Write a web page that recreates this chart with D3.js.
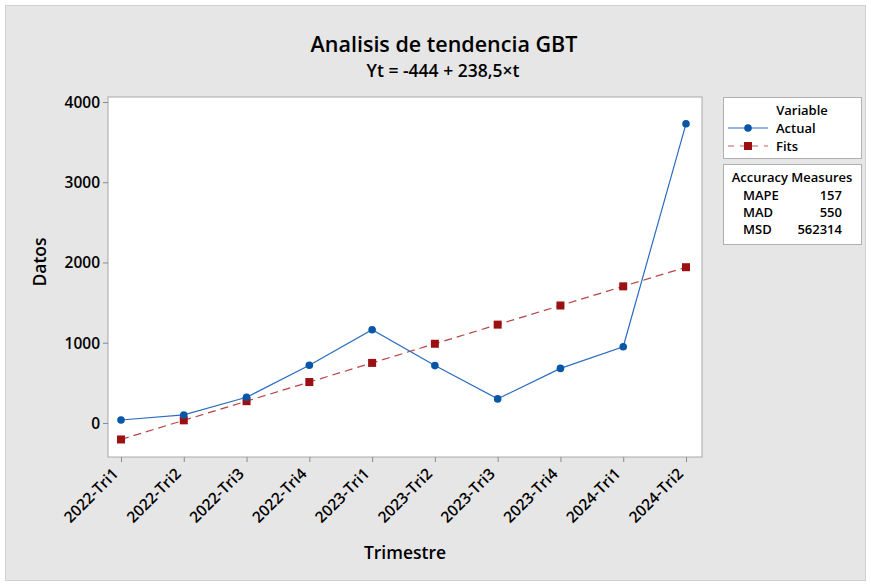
<!DOCTYPE html>
<html>
<head>
<meta charset="utf-8">
<script src="https://cdn.jsdelivr.net/npm/d3@7"></script>
<style>
  body { margin: 0; background: #fff; }
  text { font-family: "Open Sans", "Noto Sans", sans-serif; }
</style>
</head>
<body>
<div id="chart"></div>
<script>
// data
var quarters = ["2022-Tri1", "2022-Tri2", "2022-Tri3", "2022-Tri4", "2023-Tri1",
                "2023-Tri2", "2023-Tri3", "2023-Tri4", "2024-Tri1", "2024-Tri2"];
var actual = [37, 100, 320, 720, 1162, 715, 300, 680, 950, 3728];
var fits = [-205.5, 33, 271.5, 510, 748.5, 987, 1225.5, 1464, 1702.5, 1941];
var yTicks = [0, 1000, 2000, 3000, 4000];
var measureNames = ["MAPE", "MAD", "MSD"];
var measureValues = ["157", "550", "562314"];

var width = 871, height = 586;
var margin = { top: 97, right: 169, bottom: 129, left: 108 };
var plotW = width - margin.left - margin.right,
    plotH = height - margin.top - margin.bottom;

var svg = d3.select("#chart")
    .append("svg")
    .attr("width", width)
    .attr("height", height);

// gray panel
svg.append("rect")
    .attr("x", 5.5).attr("y", 5.5)
    .attr("width", 860).attr("height", 575)
    .attr("fill", "#e6e6e6")
    .attr("stroke", "#cfcfcf");

svg.append("text")
    .attr("x", 444).attr("y", 52)
    .attr("text-anchor", "middle")
    .style("font-size", "21.5px").style("font-weight", 600)
    .text("Analisis de tendencia GBT");
svg.append("text")
    .attr("x", 443).attr("y", 77)
    .attr("text-anchor", "middle")
    .style("font-size", "17.5px").style("font-weight", 600)
    .text("Yt = -444 + 238,5×t");

var g = svg.append("g")
    .attr("transform", "translate(" + margin.left + "," + margin.top + ")");

g.append("rect")
    .attr("width", plotW).attr("height", plotH)
    .attr("fill", "#fff")
    .attr("stroke", "#a8a8a8");

var x = d3.scalePoint()
    .domain(quarters)
    .range([13, plotW - 16]);

var y = d3.scaleLinear()
    .domain([-424, 4062])
    .range([plotH, 0]);

// X axis
var xAxis = g.append("g")
    .attr("transform", "translate(0," + plotH + ")")
    .call(d3.axisBottom(x).tickSize(5).tickSizeOuter(0));
xAxis.select(".domain").remove();
xAxis.selectAll("line").attr("stroke", "#8a8a8a");
xAxis.selectAll("text")
    .attr("x", 0).attr("y", 0)
    .attr("dy", "0.35em")
    .attr("transform", "translate(-6,14)rotate(-45)")
    .style("text-anchor", "end")
    .style("font-size", "15.5px").style("font-weight", 600)
    .attr("fill", "#000");

// Y axis
var yAxis = g.append("g")
    .call(d3.axisLeft(y).tickValues(yTicks).tickFormat(d3.format("d")).tickSize(5).tickSizeOuter(0));
yAxis.select(".domain").remove();
yAxis.selectAll("line").attr("stroke", "#8a8a8a");
yAxis.selectAll("text")
    .attr("x", -8)
    .attr("dy", "0.35em")
    .style("font-size", "15.5px").style("font-weight", 600)
    .attr("fill", "#000");

svg.append("text")
    .attr("x", 405).attr("y", 559)
    .attr("text-anchor", "middle")
    .style("font-size", "17.5px").style("font-weight", 600)
    .text("Trimestre");
svg.append("text")
    .attr("transform", "translate(46,262)rotate(-90)")
    .attr("text-anchor", "middle")
    .style("font-size", "17.5px").style("font-weight", 600)
    .text("Datos");

// fits line
var fitLine = d3.line()
    .x(function (d, i) { return x(quarters[i]); })
    .y(function (d) { return y(d); });
g.append("path")
    .datum(fits)
    .attr("d", fitLine)
    .attr("fill", "none")
    .attr("stroke", "#b84444")
    .attr("stroke-width", 1.2)
    .attr("stroke-dasharray", "8,5");
g.selectAll(".fit")
    .data(fits)
    .enter()
    .append("rect")
    .attr("x", function (d, i) { return x(quarters[i]) - 4; })
    .attr("y", function (d) { return y(d) - 4; })
    .attr("width", 8).attr("height", 8)
    .attr("fill", "#9b1111");

// actual line
g.append("path")
    .datum(actual)
    .attr("d", fitLine)
    .attr("fill", "none")
    .attr("stroke", "#2a6cc0")
    .attr("stroke-width", 1.2);
g.selectAll(".act")
    .data(actual)
    .enter()
    .append("circle")
    .attr("cx", function (d, i) { return x(quarters[i]); })
    .attr("cy", function (d) { return y(d); })
    .attr("r", 3.8)
    .attr("fill", "#0756a8");

// legend
var lg = svg.append("g");
lg.append("rect")
    .attr("x", 723.5).attr("y", 97.5)
    .attr("width", 138).attr("height", 61)
    .attr("fill", "#fff").attr("stroke", "#b0b0b0");
lg.append("text").attr("x", 802).attr("y", 115)
    .attr("text-anchor", "middle")
    .style("font-size", "13px").style("font-weight", 600)
    .text("Variable");
lg.append("line").attr("x1", 728).attr("x2", 768).attr("y1", 128).attr("y2", 128)
    .attr("stroke", "#2a6cc0").attr("stroke-width", 1.2);
lg.append("circle").attr("cx", 748).attr("cy", 128).attr("r", 3.8).attr("fill", "#0756a8");
lg.append("text").attr("x", 776).attr("y", 132.5)
    .style("font-size", "13px").style("font-weight", 600)
    .text("Actual");
lg.append("line").attr("x1", 728).attr("x2", 768).attr("y1", 146).attr("y2", 146)
    .attr("stroke", "#c06060").attr("stroke-width", 1.2).attr("stroke-dasharray", "6,6");
lg.append("rect").attr("x", 744).attr("y", 142).attr("width", 8).attr("height", 8).attr("fill", "#9b1111");
lg.append("text").attr("x", 776).attr("y", 150.5)
    .style("font-size", "13px").style("font-weight", 600)
    .text("Fits");

// accuracy measures
var am = svg.append("g");
am.append("rect")
    .attr("x", 723.5).attr("y", 164.5)
    .attr("width", 138).attr("height", 80)
    .attr("fill", "#fff").attr("stroke", "#b0b0b0");
am.append("text").attr("x", 792).attr("y", 182)
    .attr("text-anchor", "middle")
    .style("font-size", "13px").style("font-weight", 600)
    .text("Accuracy Measures");
am.selectAll(".mn")
    .data(measureNames)
    .enter()
    .append("text")
    .attr("x", 743)
    .attr("y", function (d, i) { return 200 + i * 17; })
    .style("font-size", "13px").style("font-weight", 600)
    .text(function (d) { return d; });
am.selectAll(".mv")
    .data(measureValues)
    .enter()
    .append("text")
    .attr("x", 842)
    .attr("y", function (d, i) { return 200 + i * 17; })
    .attr("text-anchor", "end")
    .style("font-size", "13px").style("font-weight", 600)
    .text(function (d) { return d; });
</script>
</body>
</html>
